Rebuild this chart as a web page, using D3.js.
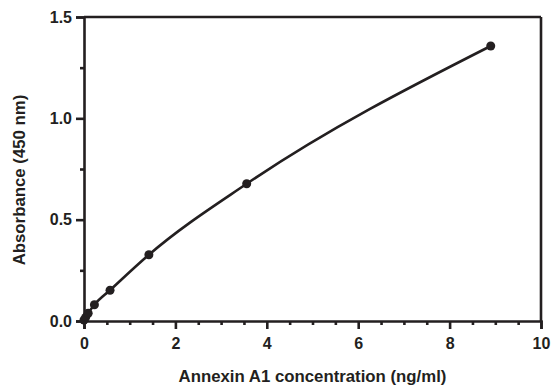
<!DOCTYPE html>
<html><head><meta charset="utf-8">
<script src="https://cdn.jsdelivr.net/npm/d3@7/dist/d3.min.js"></script>
<style>body{margin:0;background:#fff}svg{display:block}text{font-family:"Liberation Sans",Arial,sans-serif;font-weight:bold;fill:#231f20}</style>
</head><body>
<script>
const concentration = [0, 0.036, 0.091, 0.228, 0.57, 1.42, 3.56, 8.9];
const absorbance = [0.005, 0.018, 0.038, 0.080, 0.152, 0.327, 0.677, 1.357];
const xTicks = [0, 2, 4, 6, 8, 10];
const yTicks = [0.0, 0.5, 1.0, 1.5];
const xLabel = "Annexin A1 concentration (ng/ml)";
const yLabel = "Absorbance (450 nm)";

const W = 553, H = 385;
const m = {left: 84, right: 12, top: 17, bottom: 64};
const svg = d3.select("body").append("svg").attr("width", W).attr("height", H);
const x = d3.scaleLinear().domain([0, 10]).range([m.left, W - m.right]);
const y = d3.scaleLinear().domain([0, 1.5]).range([H - m.bottom, m.top]);
const col = "#231f20";
const sw = 2.6;

const xMinor = d3.range(0, 10.01, 0.5).filter(v => xTicks.indexOf(v) < 0);
const yMinor = d3.range(0, 1.51, 0.25).filter(v => yTicks.indexOf(+v.toFixed(2)) < 0);

const gx = svg.append("g").attr("transform", `translate(0,${y(0)})`)
  .call(d3.axisBottom(x).tickValues(xTicks).tickFormat(d3.format("d")).tickSize(8).tickPadding(9));
const gxm = svg.append("g").attr("transform", `translate(0,${y(0)})`)
  .call(d3.axisBottom(x).tickValues(xMinor).tickSize(4).tickFormat(""));
const gy = svg.append("g").attr("transform", `translate(${x(0)},0)`)
  .call(d3.axisLeft(y).tickValues(yTicks).tickFormat(d3.format(".1f")).tickSize(8).tickPadding(4));
const gym = svg.append("g").attr("transform", `translate(${x(0)},0)`)
  .call(d3.axisLeft(y).tickValues(yMinor).tickSize(4).tickFormat(""));

[gx, gxm, gy, gym].forEach(g => {
  g.selectAll(".domain").attr("stroke", col).attr("stroke-width", sw);
  g.selectAll(".tick line").attr("stroke", col).attr("stroke-width", sw);
  g.selectAll("text").attr("font-size", 16).attr("fill", col);
});
gxm.select(".domain").remove(); gym.select(".domain").remove();

svg.append("line").attr("x1", x(0)).attr("x2", x(10)).attr("y1", y(1.5)).attr("y2", y(1.5)).attr("stroke", col).attr("stroke-width", sw);
svg.append("line").attr("x1", x(10)).attr("x2", x(10)).attr("y1", y(1.5)).attr("y2", y(0)).attr("stroke", col).attr("stroke-width", sw);

const pts = concentration.map((c, i) => [c, absorbance[i]]);
svg.append("path").datum(pts)
  .attr("d", d3.line().x(d => x(d[0])).y(d => y(d[1])).curve(d3.curveMonotoneX))
  .attr("fill", "none").attr("stroke", col).attr("stroke-width", sw);
svg.selectAll("circle.pt").data(pts).join("circle").attr("class", "pt")
  .attr("cx", d => x(d[0])).attr("cy", d => y(d[1])).attr("r", 4.5).attr("fill", col);

svg.append("text").attr("x", (x(0) + x(10)) / 2).attr("y", 382).attr("text-anchor", "middle")
  .attr("font-size", 16.8).text(xLabel);
svg.append("text").attr("transform", `translate(25,180) rotate(-90)`).attr("text-anchor", "middle")
  .attr("font-size", 16.8).text(yLabel);
</script>
</body></html>
